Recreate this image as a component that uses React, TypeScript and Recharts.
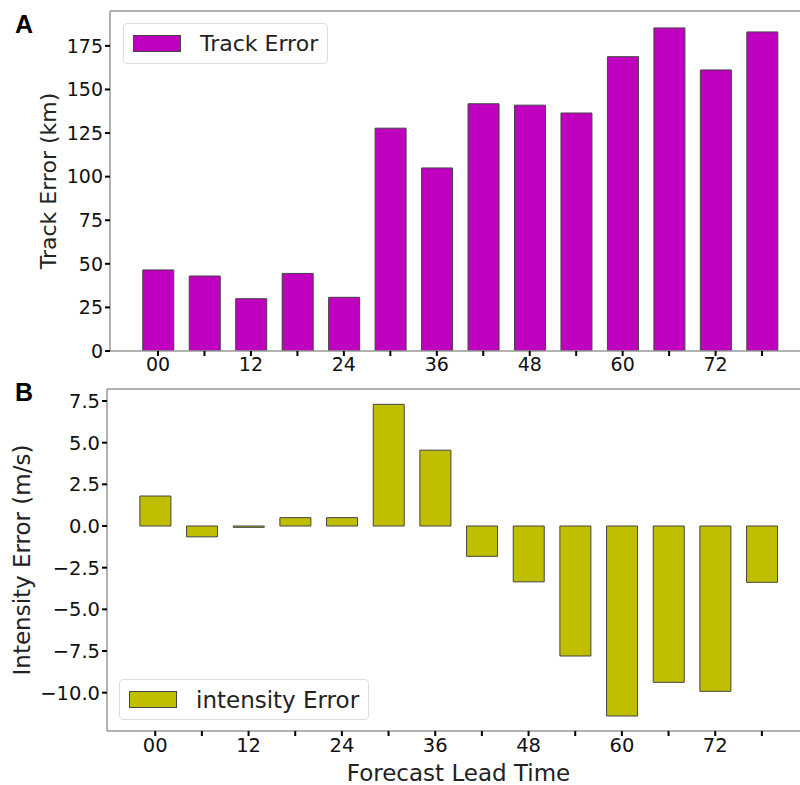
import { BarChart, Bar, XAxis, YAxis, ReferenceLine, Legend } from 'recharts'

// forecast lead times (h) and errors
const leadHours = [0, 6, 12, 18, 24, 30, 36, 42, 48, 54, 60, 66, 72, 78]
const trackError = [46.5, 43, 30, 44.5, 30.8, 127.8, 105, 141.8, 141, 136.5, 168.8, 185.3, 161.2, 183]
const intensityError = [1.8, -0.65, -0.08, 0.5, 0.5, 7.3, 4.55, -1.82, -3.35, -7.8, -11.4, -9.38, -9.92, -3.38]

const trackTicks = [0, 25, 50, 75, 100, 125, 150, 175]
const intensityTicks = [-10, -7.5, -5, -2.5, 0, 2.5, 5, 7.5]

const trackRows = leadHours.map((h, i) => ({ hour: h, value: trackError[i] }))
const intensityRows = leadHours.map((h, i) => ({ hour: h, value: intensityError[i] }))

const FONT = '"DejaVu Sans", sans-serif'
const SPINE = '#999'
const X_DOMAIN: [number, number] = [-6.2, 82.9]

const hourLabel = (h: number) => (h % 12 === 0 ? String(h).padStart(2, '0') : '')
const signed = (v: number) => (v < 0 ? '\u2212' + Math.abs(v).toFixed(1) : v.toFixed(1))

const LegendBox = ({ color, label, fontSize, patchH }: { color: string; label: string; fontSize: number; patchH: number }) => (
  <div
    style={{
      display: 'flex',
      alignItems: 'center',
      height: 39,
      padding: '0 9px 0 9px',
      border: '1px solid #ddd',
      borderRadius: 4,
      background: '#fff',
      fontFamily: FONT,
      whiteSpace: 'nowrap',
    }}
  >
    <span style={{ width: 46, height: patchH, background: color, border: '1px solid #444', marginRight: 19 }} />
    <span style={{ fontSize, color: '#222' }}>{label}</span>
  </div>
)

const panelLabel = (top: number): React.CSSProperties => ({
  position: 'absolute',
  left: 15,
  top,
  fontFamily: '"Liberation Sans", Arial, sans-serif',
  fontWeight: 700,
  fontSize: 25,
  lineHeight: 1,
  color: '#000',
})

export default function App() {
  return (
    <div style={{ position: 'absolute', left: 0, top: 0, width: 800, height: 785, background: '#fff', overflow: 'hidden' }}>
      <div style={{ position: 'absolute', left: 0, top: 0 }}>
        <BarChart width={800} height={390} data={trackRows} margin={{ top: 11, right: 0, left: 50, bottom: 9 }}>
          <XAxis
            dataKey="hour"
            type="number"
            domain={X_DOMAIN}
            allowDataOverflow
            ticks={leadHours}
            interval={0}
            tickFormatter={hourLabel}
            height={30}
            axisLine={{ stroke: SPINE, strokeWidth: 1.5 }}
            tickLine={{ stroke: '#000', strokeWidth: 2 }}
            tickSize={5}
            tick={{ fill: '#111', fontSize: 19, fontFamily: FONT }}
          />
          <YAxis
            type="number"
            domain={[0, 195]}
            allowDataOverflow
            ticks={trackTicks}
            interval={0}
            width={60}
            axisLine={{ stroke: SPINE, strokeWidth: 1.5 }}
            tickLine={{ stroke: '#000', strokeWidth: 2 }}
            tickSize={5}
            tick={{ fill: '#111', fontSize: 19, fontFamily: FONT }}
            label={{
              value: 'Track Error (km)',
              angle: -90,
              position: 'insideLeft',
              offset: -2,
              style: { textAnchor: 'middle', fontSize: 22, fontFamily: FONT, fill: '#222' },
            }}
          />
          <ReferenceLine y={195} stroke={SPINE} strokeWidth={1.5} />
          <Legend
            layout="horizontal"
            verticalAlign="middle"
            wrapperStyle={{ top: 23, left: 123, width: 'auto', height: 'auto' }}
            content={() => <LegendBox color="#bf00bf" label="Track Error" fontSize={22} patchH={15} />}
          />
          <Bar dataKey="value" name="Track Error" fill="#bf00bf" stroke="#444" strokeWidth={1} barSize={31} isAnimationActive={false} />
        </BarChart>
      </div>

      <div style={{ position: 'absolute', left: 0, top: 380 }}>
        <BarChart width={800} height={405} data={intensityRows} margin={{ top: 9, right: 0, left: 27, bottom: 24 }}>
          <XAxis
            dataKey="hour"
            type="number"
            domain={X_DOMAIN}
            allowDataOverflow
            ticks={leadHours}
            interval={0}
            tickFormatter={hourLabel}
            height={30}
            axisLine={{ stroke: SPINE, strokeWidth: 1.5 }}
            tickLine={{ stroke: '#000', strokeWidth: 2 }}
            tickSize={5}
            tick={{ fill: '#111', fontSize: 19.5, fontFamily: FONT }}
            label={{
              value: 'Forecast Lead Time',
              position: 'bottom',
              offset: 4,
              dx: 5,
              style: { fontSize: 23, fontFamily: FONT, fill: '#222' },
            }}
          />
          <YAxis
            type="number"
            domain={[-12.3, 8.22]}
            allowDataOverflow
            ticks={intensityTicks}
            interval={0}
            width={80}
            tickFormatter={signed}
            axisLine={{ stroke: SPINE, strokeWidth: 1.5 }}
            tickLine={{ stroke: '#000', strokeWidth: 2 }}
            tickSize={5}
            tick={{ fill: '#111', fontSize: 19.5, fontFamily: FONT }}
            label={{
              value: 'Intensity Error (m/s)',
              angle: -90,
              position: 'insideLeft',
              offset: -5,
              style: { textAnchor: 'middle', fontSize: 23, fontFamily: FONT, fill: '#222' },
            }}
          />
          <ReferenceLine y={8.22} stroke={SPINE} strokeWidth={1.5} />
          <Legend
            layout="horizontal"
            verticalAlign="middle"
            wrapperStyle={{ top: 299, left: 119, width: 'auto', height: 'auto' }}
            content={() => <LegendBox color="#bfbf00" label="intensity Error" fontSize={23} patchH={15} />}
          />
          <Bar dataKey="value" name="intensity Error" fill="#bfbf00" stroke="#444" strokeWidth={1} barSize={31} isAnimationActive={false} />
        </BarChart>
      </div>

      <div style={panelLabel(12)}>A</div>
      <div style={panelLabel(380)}>B</div>
    </div>
  )
}
